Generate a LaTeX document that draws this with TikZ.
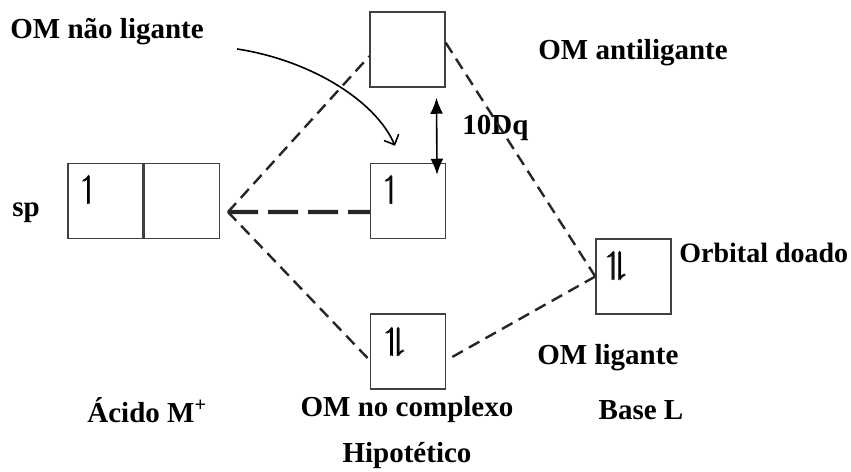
\documentclass[tikz,border=0pt]{standalone}
\usepackage{amssymb}
\usepackage{amsmath}
\usepackage{fontspec}
\setmainfont{Liberation Serif}
\usetikzlibrary{arrows.meta,positioning}
\begin{document}
\begin{tikzpicture}[x=0.5pt,y=-0.5pt,>={Latex[length=8pt,width=6.5pt]},font=\bfseries\fontsize{14.5}{17}\selectfont,
	orb/.style={draw=black!75,line width=0.75pt,minimum width=37.5pt,minimum height=37.5pt,inner sep=0pt},
	txt/.style={inner sep=0pt},
	spin/.style={inner sep=0pt,font=\fontsize{16}{19}\selectfont},
	dsh/.style={draw=black!85,line width=1.2pt,dash pattern=on 6pt off 3.5pt},
	dshthick/.style={draw=black!85,line width=2.2pt,dash pattern=on 15pt off 5pt}]
		\useasboundingbox (0,0) rectangle (851,471);
		\node[orb] (sp1) at (105.5,201) {};
		\node[orb,right=0pt of sp1] (sp2) {};
		\node[orb] (anti) at (407.5,49.5) {};
		\node[orb] (nlig) at (408,201) {};
		\node[orb] (lig) at (408,351.5) {};
		\node[orb] (base) at (633.5,276.5) {};
		\node[spin] (e1) at ([shift={(22,27)}]sp1.north west) {$\pmb{\upharpoonleft}$};
		\node[spin] (e2) at ([shift={(22,27)}]nlig.north west) {$\pmb{\upharpoonleft}$};
		\node[spin] (e3) at ([shift={(26,29)}]lig.north west) {$\pmb{\upharpoonleft}\mkern-3.5mu\pmb{\downharpoonright}$};
		\node[spin] (e4) at ([shift={(22,28)}]base.north west) {$\pmb{\upharpoonleft}\mkern-3.5mu\pmb{\downharpoonright}$};
		\node[txt,anchor=west] (tnlig) at (10,32) {OM não ligante};
		\node[txt,anchor=west] (tanti) at (538,53) {OM antiligante};
		\node[txt,anchor=west] (dq) at (462,128) {10Dq};
		\node[txt,anchor=west] (tsp) at (12,213) {sp};
		\node[txt,anchor=west,font=\bfseries\fontsize{14}{17}\selectfont] (tdoa) at (679,253) {Orbital doado};
		\node[txt,anchor=west] (tlig) at (537,358) {OM ligante};
		\node[txt,anchor=west] (tacid) at (87,410) {Ácido M\textsuperscript{+}};
		\node[txt] (tcompl) at (407,410) {OM no complexo};
		\node[txt] (tbase) at (641,410) {Base L};
		\node[txt] (thip) at (407,456) {Hipotético};
		\coordinate (mid) at (228,212);
		\draw[dsh] (mid) -- (anti.190);
		\draw[dsh] (mid) -- (lig.193);
		\draw[dshthick] (mid) -- (nlig.196);
		\draw[dsh] (anti.10) -- (base.west);
		\draw[dsh,shorten <=3.5pt] (lig.-13) -- (base.west);
		\draw[<->,line width=0.8pt] ([xshift=14.5pt,yshift=-5pt]anti.south) -- ([xshift=14.5pt,yshift=-6pt]nlig.north);
		\draw[-{Straight Barb[length=4pt,width=8pt]},line width=0.8pt] ([xshift=16.5pt,yshift=-8.5pt]tnlig.east) .. controls +(72,11) and +(-20,-46) .. ([xshift=-6.5pt,yshift=8.5pt]nlig.north);
\end{tikzpicture}
\end{document}
